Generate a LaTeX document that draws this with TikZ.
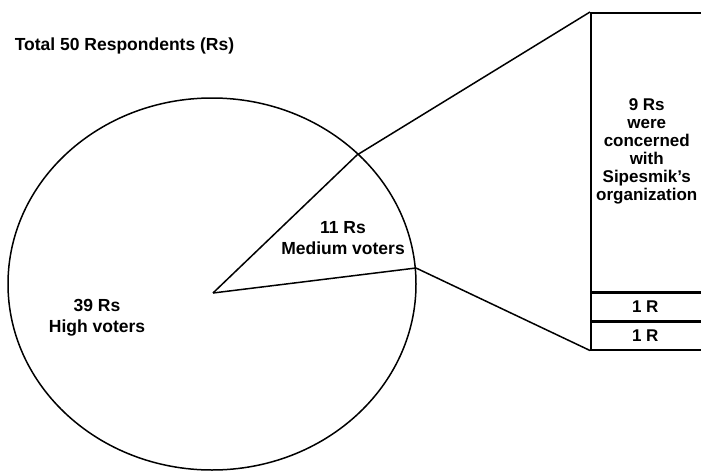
\documentclass[tikz,border=0pt]{standalone}
\usepackage{fontspec}
\setmainfont{Liberation Sans}
\begin{document}
\begin{tikzpicture}[x=1pt,y=-1pt,line width=1.5pt,
  txt/.style={font=\fontsize{17.5}{21}\selectfont\bfseries,align=center,inner sep=0pt},
  cell/.style={draw,rectangle,anchor=north west,minimum width=125pt,inner sep=0pt,
    font=\fontsize{17}{18}\selectfont\bfseries,align=center}]
\useasboundingbox (0,0) rectangle (701,471);

% title
\node[txt,anchor=base west] (title) at (14,50) {Total 50 Respondents (Rs)};

% pie chart: full disc and the medium-voter slice
\draw (212,284) ellipse [x radius=204,y radius=186];
\coordinate (P) at (213,293);
\coordinate (A) at (357,155);
\coordinate (B) at (416,268);
\draw (P) -- (A);
\draw (P) -- (B);

\node[txt] (high) at (97,318) {39 Rs\\High voters};
\node[txt] (medium) at (343,238) {11 Rs\\Medium voters};

% breakdown bar of the medium voters
\node[cell,minimum height=279pt] (big) at (590,12)
  {\raisebox{12pt}{\hspace*{-13pt}\begin{tabular}{@{}c@{}}9 Rs\\were\\concerned\\with\\Sipesmik's\\organization\end{tabular}}};
\node[cell,minimum height=27pt] (r1) at (big.south west) {\hspace*{-16pt}1 R};
\node[cell,minimum height=28pt] (r2) at (r1.south west) {\hspace*{-16pt}1 R};

% connectors from the slice to the bar
\draw (A) -- (big.north west);
\draw (B) -- (r2.south west);
\end{tikzpicture}
\end{document}
